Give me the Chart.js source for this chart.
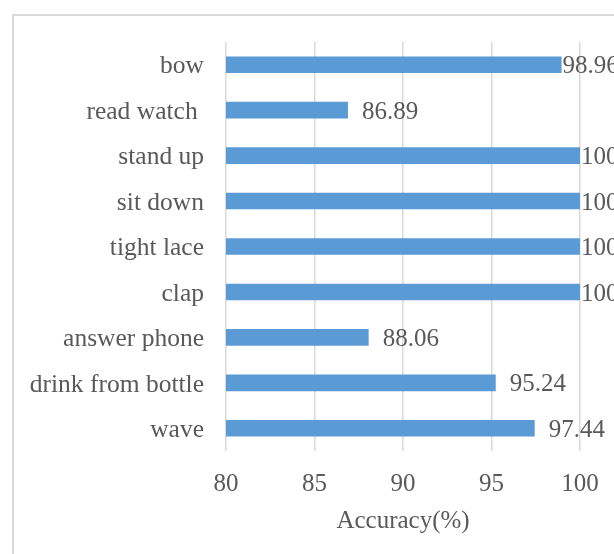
<!DOCTYPE html>
<html>
<head>
<meta charset="utf-8">
<script src="https://cdn.jsdelivr.net/npm/chart.js@4.4.1/dist/chart.umd.min.js"></script>
<style>
  html, body { margin: 0; padding: 0; background: #fff; }
  #wrap { width: 614px; height: 554px; position: relative; }
</style>
</head>
<body>
<div id="wrap"><canvas id="chart"></canvas></div>
<script>
// Chart data
const actions = ["bow", "read watch ", "stand up", "sit down", "tight lace", "clap", "answer phone", "drink from bottle", "wave"];
const accuracy = [98.96, 86.89, 100, 100, 100, 100, 88.06, 95.24, 97.44];
const xTicks = [80, 85, 90, 95, 100];

const textColor = "#595959";
const fontFamily = "'Liberation Serif', 'Times New Roman', serif";

// White background + light grey frame like the Excel chart border
const framePlugin = {
  id: "frame",
  beforeDraw(chart) {
    const ctx = chart.ctx;
    ctx.save();
    ctx.fillStyle = "#fff";
    ctx.fillRect(0, 0, chart.width, chart.height);
    ctx.strokeStyle = "#d9d9d9";
    ctx.lineWidth = 2;
    ctx.strokeRect(13, 15, chart.width + 20, chart.height + 20);
    ctx.restore();
  }
};

// Value labels at the end of each bar
const valueLabels = {
  id: "valueLabels",
  afterDatasetsDraw(chart) {
    const ctx = chart.ctx;
    const meta = chart.getDatasetMeta(0);
    ctx.save();
    ctx.font = "25px " + fontFamily;
    ctx.fillStyle = textColor;
    ctx.textBaseline = "middle";
    ctx.textAlign = "left";
    meta.data.forEach((bar, i) => {
      const txt = String(accuracy[i]);
      const w = ctx.measureText(txt).width;
      let x = bar.x + 14;
      if (x + w > chart.width) x = bar.x + 1;
      ctx.fillText(txt, x, bar.y + 2);
    });
    ctx.restore();
  }
};

new Chart(document.getElementById("chart"), {
  type: "bar",
  data: {
    labels: actions,
    datasets: [{
      label: "Accuracy",
      data: accuracy,
      backgroundColor: "#5b9bd5",
      borderWidth: 0,
      barPercentage: 0.366,
      categoryPercentage: 1
    }]
  },
  options: {
    indexAxis: "y",
    responsive: true,
    maintainAspectRatio: false,
    animation: false,
    layout: { padding: { left: 14, top: 42, right: 34, bottom: 0 } },
    plugins: {
      legend: { display: false },
      tooltip: { enabled: false }
    },
    scales: {
      x: {
        min: 80,
        max: 100,
        afterBuildTicks(scale) {
          scale.ticks = xTicks.map(v => ({ value: v }));
        },
        afterFit(scale) {
          scale.height = 103;
          scale.paddingLeft = 0;
          scale.paddingRight = 0;
        },
        grid: { color: "#d9d9d9", lineWidth: 1.5, drawTicks: false },
        border: { display: false },
        ticks: {
          color: textColor,
          padding: 18,
          font: { family: fontFamily, size: 25 }
        },
        title: {
          display: true,
          text: "Accuracy(%)",
          color: textColor,
          font: { family: fontFamily, size: 25 },
          padding: { top: 0, bottom: 18 }
        }
      },
      y: {
        afterFit(scale) {
          scale.width = 212;
          scale.paddingTop = 0;
          scale.paddingBottom = 0;
        },
        grid: { display: false, drawTicks: false },
        border: { display: false },
        ticks: {
          color: textColor,
          padding: 22,
          labelOffset: 2,
          font: { family: fontFamily, size: 25.5 }
        }
      }
    }
  },
  plugins: [framePlugin, valueLabels]
});
</script>
</body>
</html>
